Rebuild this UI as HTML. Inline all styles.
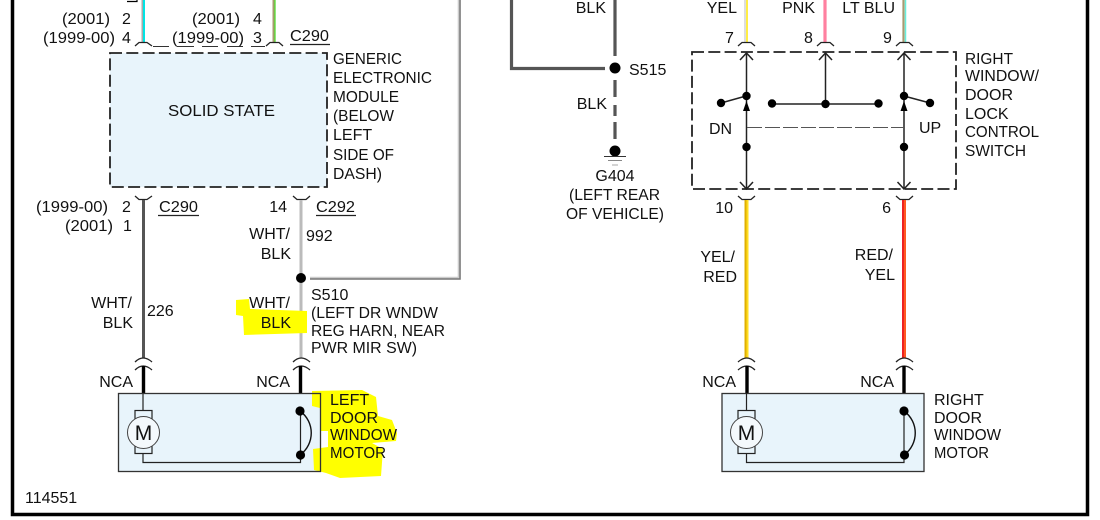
<!DOCTYPE html>
<html><head><meta charset="utf-8"><style>
html,body{margin:0;padding:0;background:#fff}
svg{display:block}
text{font-family:"Liberation Sans",sans-serif;font-size:16px;fill:#111}
.e{text-anchor:end}.m{text-anchor:middle}
.c{fill:none;stroke:#222;stroke-width:1.3}
.d{fill:#000}
</style></head><body>
<svg width="1100" height="520" viewBox="0 0 1100 520">
<rect width="1100" height="520" fill="#fff"/>
<!-- outer frame -->
<path d="M12.500 0V514.500H1087.500V0" fill="none" stroke="#000" stroke-width="3.500"/>
<path d="M127 1.500H137V0" fill="none" stroke="#000" stroke-width="1.200"/>

<!-- module -->
<rect x="110" y="53" width="217" height="134" fill="#e8f4fb" stroke="#222" stroke-width="1.800" stroke-dasharray="12 4.300"/>
<!-- switch -->
<rect x="692" y="52" width="264" height="137" fill="none" stroke="#222" stroke-width="1.800" stroke-dasharray="12 4.300"/>

<!-- upper wires -->
<path d="M142.500 0V42" stroke="#aaa" stroke-width="2"/><path d="M144 0V42" stroke="#00e5e5" stroke-width="2"/>
<path d="M273.500 0V42" stroke="#a89a70" stroke-width="2"/><path d="M275 0V42" stroke="#55dd33" stroke-width="1.300"/>
<path d="M745 0V42" stroke="#ddd" stroke-width="2"/><path d="M747 0V42" stroke="#ffee44" stroke-width="2"/>
<path d="M825 0V42" stroke="#ff80a0" stroke-width="3.200"/>
<path d="M903.500 0V42" stroke="#a89a70" stroke-width="2.200"/><path d="M905.500 0V42" stroke="#66eedd" stroke-width="1.500"/>

<!-- C290 partial connector -->
<path d="M153 46.500H169M177 46.500H194M202 46.500H218M227 46.500H243M251 46.500H265" stroke="#333" stroke-width="1"/>
<path class="c" d="M135 46L139 42.500H147L152 46"/>
<path class="c" d="M266 46L270 42.500H279L283 46"/>
<path class="c" d="M738 46L742 42.500H751L755 46"/>
<path class="c" d="M817 46L821 42.500H830L834 46"/>
<path class="c" d="M896 46L900 42.500H909L913 46"/>

<!-- lower cups -->
<path class="c" d="M135 196L139 199.500H147L152 196"/>
<path class="c" d="M293 196L297 199.500H306L310 196"/>
<path class="c" d="M738 196L742 199.500H751L755 196"/>
<path class="c" d="M896 196L900 199.500H909L913 196"/>

<!-- lower wires -->
<path d="M143.500 200V358" stroke="#555" stroke-width="3"/>
<path d="M301 200V358" stroke="#bbb" stroke-width="3"/>
<path d="M459.500 0V278.500H310" fill="none" stroke="#777" stroke-width="2.600"/>
<path d="M458.500 0V277.500H310" fill="none" stroke="#ccc" stroke-width="1.600"/>
<circle class="d" cx="301" cy="278" r="5"/>
<path d="M745.500 200V358" stroke="#e0b000" stroke-width="2"/><path d="M747.500 200V358" stroke="#ffdd22" stroke-width="2"/>
<path d="M903 200V358" stroke="#ee2222" stroke-width="2"/><path d="M905 200V358" stroke="#ff5a22" stroke-width="2"/>

<!-- double connectors -->
<path class="c" d="M135 362Q143 354 152 362M135 370Q143 362 152 370"/>
<path class="c" d="M293 362Q301 354 310 362M293 370Q301 362 310 370"/>
<path class="c" d="M738 362Q747 354 755 362M738 370Q747 362 755 370"/>
<path class="c" d="M896 362Q904 354 913 362M896 370Q904 362 913 370"/>
<path d="M143.500 366V393M300.500 366V393M747 366V393M904 366V393" stroke="#000" stroke-width="3.400"/>

<!-- S515 -->
<path d="M615 0V56M605 68.500H511.500V0" fill="none" stroke="#555" stroke-width="3.200"/>
<circle class="d" cx="615" cy="68" r="5.500"/>
<path d="M615 80V97M615 105V116M615 122V139" stroke="#555" stroke-width="3.200"/>
<circle class="d" cx="615" cy="151" r="5.500"/>
<path d="M604 156.500H626" stroke="#333" stroke-width="1"/>
<path d="M608 160.500H622" stroke="#888" stroke-width="1"/>
<path d="M612 165H618" stroke="#aaa" stroke-width="1"/>

<!-- switch internals -->
<g fill="none" stroke="#222" stroke-width="1.500">
<path d="M746.500 53V189M904 53V189M825.500 53V104M772 104H879M721 103L746 96M904 96L930 103"/>
<path d="M740 60L746.500 53L753 60M819 60L825.500 53L832 60M897.500 60L904 53L910.500 60"/>
<path d="M740 182L746.500 189L753 182M897.500 182L904 189L910.500 182"/>
</g>
<path d="M747 127.500H904" stroke="#555" stroke-width="1" stroke-dasharray="15 3"/>
<path class="d" d="M746.500 101L750 111H743ZM904 101L907.500 111H900.500Z"/>
<g class="d">
<circle cx="721" cy="103" r="4.200"/><circle cx="746.500" cy="96" r="4.200"/><circle cx="772" cy="103.500" r="4.200"/><circle cx="825.500" cy="104" r="4.200"/><circle cx="878.500" cy="103.500" r="4.200"/><circle cx="904" cy="96" r="4.200"/><circle cx="930" cy="103" r="4.200"/><circle cx="746.500" cy="147" r="4.200"/><circle cx="904" cy="147" r="4.200"/>
</g>

<!-- motors -->
<rect x="118.500" y="393.500" width="202" height="78" fill="#e8f4fb"/>
<path d="M143 393V410M143 453V462.500H300.500V411" fill="none" stroke="#222" stroke-width="1.200"/>
<rect x="135" y="410.500" width="17" height="43" fill="#e8f4fb" stroke="#222" stroke-width="1.200"/>
<circle cx="143.500" cy="432.500" r="16" fill="#f4f9fc" stroke="#444" stroke-width="1"/>
<path d="M300 411C315 422 315 444 300 455" fill="none" stroke="#111" stroke-width="1.400"/>
<circle class="d" cx="300" cy="411" r="4.600"/><circle class="d" cx="300.500" cy="455" r="4.600"/>

<rect x="722" y="393.500" width="202" height="78" fill="#e8f4fb" stroke="#333" stroke-width="1.300"/>
<path d="M746.500 393V410M746.500 453V462.500H904V411" fill="none" stroke="#222" stroke-width="1.200"/>
<rect x="738" y="410.500" width="17" height="43" fill="#e8f4fb" stroke="#222" stroke-width="1.200"/>
<circle cx="746.500" cy="432.500" r="16" fill="#f4f9fc" stroke="#444" stroke-width="1"/>
<path d="M904 411C919 422 919 444 904 455" fill="none" stroke="#111" stroke-width="1.400"/>
<circle class="d" cx="904" cy="411" r="4.600"/><circle class="d" cx="904.500" cy="455" r="4.600"/>
<text x="143.500" y="440" class="m" style="font-size:21px">M</text>
<text x="746.500" y="440" class="m" style="font-size:21px">M</text>

<!-- highlights (over the wires and box fill) -->
<path d="M236 300L249 299L250 309L307 311L307 333L244 335L243 316L236 315Z" fill="#ffff00"/>
<path d="M312 391L362 390L376 397L378 416L392 420L397 433L396 441L372 443L383 449L381 476L340 478L326 473L314 470L313 449L328 447L328 431L320 431L320 408L312 406Z" fill="#ffff00"/>
<rect x="118.500" y="393.500" width="202" height="78" fill="none" stroke="#333" stroke-width="1.300"/>

<!-- underlines -->
<path d="M290 44.500H330M158 215.500H199M316 215.500H356" stroke="#222" stroke-width="1.200"/>

<!-- text -->
<text x="110" y="24" class="e" textLength="48" lengthAdjust="spacingAndGlyphs">(2001)</text><text x="122" y="24">2</text>
<text x="115" y="43" class="e" textLength="72" lengthAdjust="spacingAndGlyphs">(1999-00)</text><text x="122" y="43">4</text>
<text x="240" y="24" class="e" textLength="48" lengthAdjust="spacingAndGlyphs">(2001)</text><text x="253" y="24">4</text>
<text x="244" y="43" class="e" textLength="72" lengthAdjust="spacingAndGlyphs">(1999-00)</text><text x="253" y="43">3</text>
<text x="290" y="41" textLength="39" lengthAdjust="spacingAndGlyphs">C290</text>
<text x="168" y="116" textLength="107" lengthAdjust="spacingAndGlyphs">SOLID STATE</text>
<text x="333" y="64" textLength="69" lengthAdjust="spacingAndGlyphs">GENERIC</text>
<text x="333" y="83" textLength="99" lengthAdjust="spacingAndGlyphs">ELECTRONIC</text>
<text x="333" y="102" textLength="66" lengthAdjust="spacingAndGlyphs">MODULE</text>
<text x="333" y="121" textLength="61" lengthAdjust="spacingAndGlyphs">(BELOW</text>
<text x="333" y="140">LEFT</text>
<text x="333" y="160" textLength="61" lengthAdjust="spacingAndGlyphs">SIDE OF</text>
<text x="333" y="179" textLength="49" lengthAdjust="spacingAndGlyphs">DASH)</text>
<text x="108" y="212" class="e" textLength="72" lengthAdjust="spacingAndGlyphs">(1999-00)</text><text x="122" y="212">2</text>
<text x="113" y="231" class="e" textLength="48" lengthAdjust="spacingAndGlyphs">(2001)</text><text x="123" y="231">1</text>
<text x="159" y="212" textLength="39" lengthAdjust="spacingAndGlyphs">C290</text><text x="287" y="212" class="e">14</text><text x="316" y="212" textLength="39" lengthAdjust="spacingAndGlyphs">C292</text>
<text x="290" y="239" class="e">WHT/</text><text x="291" y="259" class="e">BLK</text><text x="306" y="241">992</text>
<text x="311" y="300">S510</text>
<text x="311" y="318" textLength="127" lengthAdjust="spacingAndGlyphs">(LEFT DR WNDW</text>
<text x="311" y="336" textLength="134" lengthAdjust="spacingAndGlyphs">REG HARN, NEAR</text>
<text x="311" y="353" textLength="106" lengthAdjust="spacingAndGlyphs">PWR MIR SW)</text>
<text x="132" y="308" class="e">WHT/</text><text x="133" y="328" class="e">BLK</text><text x="147" y="316">226</text>
<text x="290" y="308" class="e">WHT/</text><text x="291" y="328" class="e">BLK</text>
<text x="133" y="387" class="e">NCA</text><text x="290" y="387" class="e">NCA</text>
<text x="330" y="405">LEFT</text>
<text x="330" y="423">DOOR</text>
<text x="330" y="440" textLength="67" lengthAdjust="spacingAndGlyphs">WINDOW</text>
<text x="330" y="458" textLength="56" lengthAdjust="spacingAndGlyphs">MOTOR</text>
<text x="25" y="503">114551</text>
<text x="606" y="13" class="e">BLK</text><text x="607" y="109" class="e">BLK</text><text x="629" y="75">S515</text>
<text x="615" y="181" class="m">G404</text>
<text x="569" y="200" textLength="91" lengthAdjust="spacingAndGlyphs">(LEFT REAR</text>
<text x="566" y="219" textLength="98" lengthAdjust="spacingAndGlyphs">OF VEHICLE)</text>
<text x="737" y="13" class="e">YEL</text><text x="815" y="13" class="e">PNK</text><text x="895" y="13" class="e">LT BLU</text>
<text x="725" y="43">7</text><text x="804" y="43">8</text><text x="883" y="43">9</text>
<text x="733" y="213" class="e">10</text><text x="891" y="213" class="e">6</text>
<text x="709" y="134">DN</text><text x="919" y="133">UP</text>
<text x="965" y="64" textLength="48" lengthAdjust="spacingAndGlyphs">RIGHT</text>
<text x="965" y="81" textLength="74" lengthAdjust="spacingAndGlyphs">WINDOW/</text>
<text x="965" y="100">DOOR</text>
<text x="965" y="119">LOCK</text>
<text x="965" y="137" textLength="74" lengthAdjust="spacingAndGlyphs">CONTROL</text>
<text x="965" y="156" textLength="61" lengthAdjust="spacingAndGlyphs">SWITCH</text>
<text x="735" y="262" class="e">YEL/</text><text x="737" y="282" class="e">RED</text>
<text x="893" y="260" class="e">RED/</text><text x="895" y="280" class="e">YEL</text>
<text x="736" y="387" class="e">NCA</text><text x="894" y="387" class="e">NCA</text>
<text x="934" y="405">RIGHT</text>
<text x="934" y="423">DOOR</text>
<text x="934" y="440" textLength="67" lengthAdjust="spacingAndGlyphs">WINDOW</text>
<text x="934" y="458" textLength="55" lengthAdjust="spacingAndGlyphs">MOTOR</text>
</svg>
</body></html>
